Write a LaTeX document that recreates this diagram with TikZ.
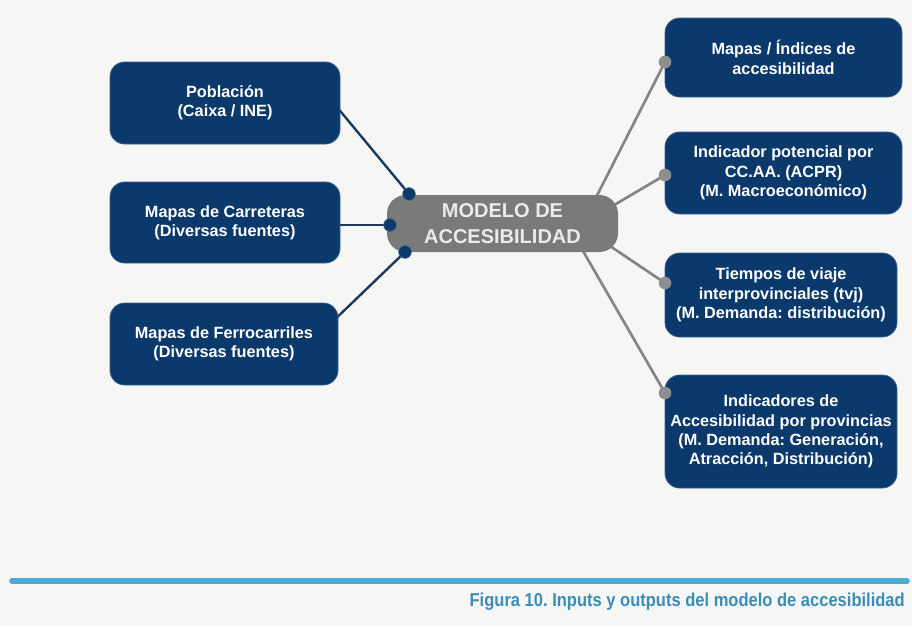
\documentclass[tikz,border=0pt]{standalone}
\usepackage{fontspec}
\setmainfont{Liberation Sans}
\newfontfamily\capfont[FakeStretch=0.885]{Liberation Sans}
\usetikzlibrary{calc}
\frenchspacing
\pgfdeclarelayer{bg}
\pgfsetlayers{bg,main}
\definecolor{bgcol}{HTML}{F6F6F4}
\definecolor{navy}{HTML}{0B396B}
\definecolor{navyedge}{HTML}{3A628E}
\definecolor{lnavy}{HTML}{1C3A5E}
\definecolor{cgray}{HTML}{7A7A7A}
\definecolor{lgray}{HTML}{858585}
\definecolor{dgray}{HTML}{8E8E8E}
\definecolor{capblue}{HTML}{4AABD3}
\definecolor{captext}{HTML}{3A8DB6}
\tikzset{
  sz/.style 2 args={minimum width=#1*0.75pt, minimum height=#2*0.75pt},
  box/.style={draw=navyedge, line width=0.6pt, fill=navy, rounded corners=11pt,
    text=white, align=center, inner sep=0pt,
    font=\bfseries\fontsize{12.2}{14.5}\selectfont},
  cbox/.style={fill=cgray, rounded corners=14pt, text=white!92!black, align=center,
    inner sep=0pt, font=\bfseries\fontsize{15}{19.5}\selectfont},
  lline/.style={draw=lnavy, line width=1.8pt},
  rline/.style={draw=lgray, line width=2pt},
  ldot/.style={circle, fill=navy, draw=navyedge, line width=0.5pt, inner sep=0pt, minimum size=9.5pt},
  rdot/.style={circle, fill=dgray, inner sep=0pt, minimum size=9.5pt},
}
\begin{document}
\begin{tikzpicture}[x=0.75pt,y=-0.75pt]
\begin{pgfonlayer}{bg}
\fill[bgcol] (0,0) rectangle (912,626);
\end{pgfonlayer}
\useasboundingbox (0,0) rectangle (912,626);

% centre box
\node[cbox, sz={231}{57}] (M) at (502.5,223.5) {MODELO DE\\ACCESIBILIDAD};

% left inputs
\node[box, sz={230}{82}] (P) at (225,103) {Población\\(Caixa / INE)};
\node[box, sz={230}{81}] (C) at (225,222.5) {Mapas de Carreteras\\(Diversas fuentes)};
\node[box, sz={228}{82}] (F) at (224,344) {Mapas de Ferrocarriles\\(Diversas fuentes)};

% right outputs
\node[box, sz={237}{79}] (R1) at (783.5,57.5) {Mapas / Índices de\\accesibilidad};
\node[box, sz={237}{82}] (R2) at (783.5,173) {Indicador potencial por\\CC.AA. (ACPR)\\(M. Macroeconómico)};
\node[box, sz={232}{84}] (R3) at (781,295) {Tiempos de viaje\\interprovinciales (tvj)\\(M. Demanda: distribución)};
\node[box, sz={232}{113}] (R4) at (781,431.5) {Indicadores de\\Accesibilidad por provincias\\(M. Demanda: Generación,\\Atracción, Distribución)};

% dots
\node[ldot] (d1) at (409,194) {};
\node[ldot] (d2) at (390,225) {};
\node[ldot] (d3) at (405,252) {};
\node[rdot] (r1) at (665,62) {};
\node[rdot] (r2) at (665,175) {};
\node[rdot] (r3) at (665,283) {};
\node[rdot] (r4) at (665,393) {};

% connectors (behind the boxes)
\begin{pgfonlayer}{bg}
\draw[lline] ($(P.east)+(-1,7)$) -- (d1.center);
\draw[lline] (C.east |- d2) -- (d2.center);
\draw[lline] ($(F.east)+(-1,-27)$) -- (d3.center);
\draw[rline] ($(M.north east)+(-26,10)$) -- (r1.center);
\draw[rline] ($(M.east)+(-10,-15)$) -- (r2.center);
\draw[rline] ($(M.east)+(-12,20)$) -- (r3.center);
\draw[rline] ($(M.south east)+(-38,-6)$) -- (r4.center);
\end{pgfonlayer}

% caption
\coordinate (capL) at (12,581);
\coordinate (capR) at (907,581);
\draw[capblue, line width=4.2pt, line cap=round] (capL) -- (capR);
\node[anchor=base east, text=captext, inner sep=0pt,
  font=\capfont\bfseries\fontsize{14}{16}\selectfont] (cap) at (905,606)
  {Figura 10. Inputs y outputs del modelo de accesibilidad};
\end{tikzpicture}
\end{document}
